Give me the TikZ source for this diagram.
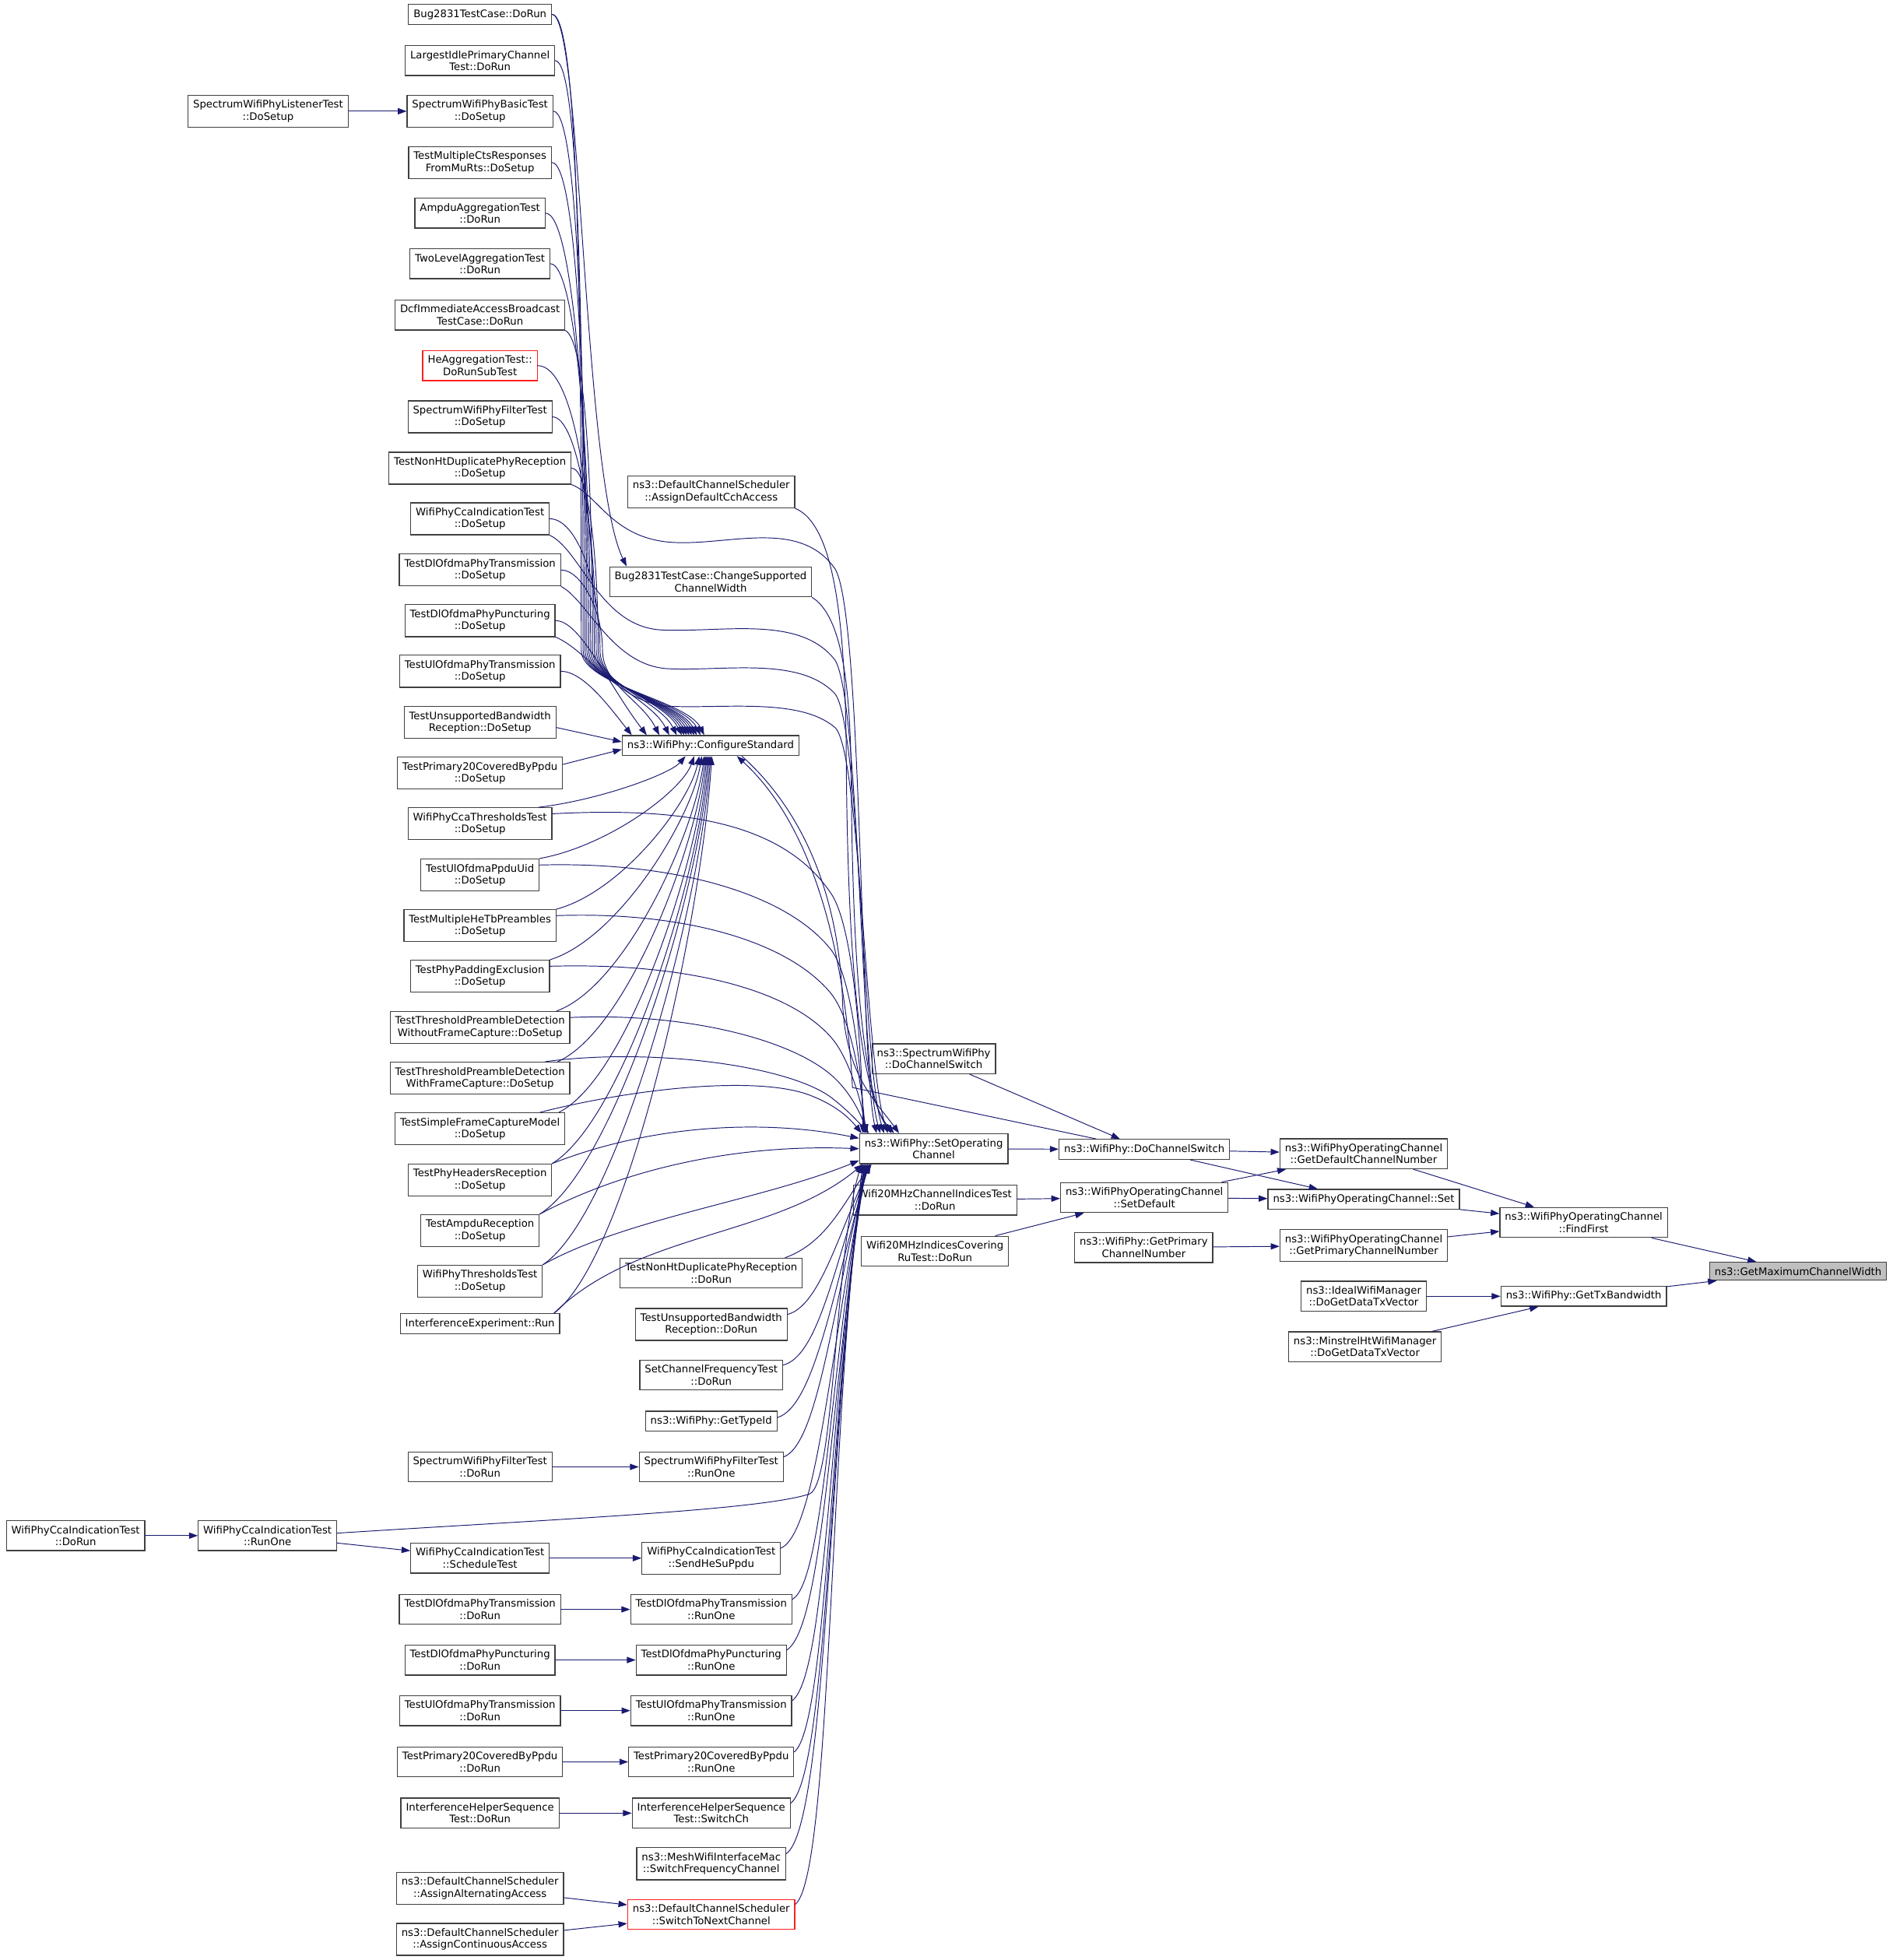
\documentclass[tikz,border=0pt]{standalone}
\usepackage{fontspec}
\setmainfont{DejaVu Sans}
\usepackage{tikz}
\usetikzlibrary{arrows.meta}
\definecolor{edgeblue}{HTML}{191970}
\definecolor{boxline}{HTML}{404040}
\definecolor{hlgray}{HTML}{BFBFBF}
\definecolor{hotred}{HTML}{FF2020}

\begin{document}
\begin{tikzpicture}[x=1pt, y=-1pt, style={line cap=round},
  fn/.style={draw=boxline, line width=0.8pt, fill=white, align=center,
    inner xsep=4pt, inner ysep=4pt, font=\fontsize{8.25}{9.6}\selectfont},
  hl/.style={fn, fill=hlgray},
  rd/.style={fn, draw=hotred},
  call/.style={draw=edgeblue, line width=0.6pt, -{Triangle[length=7pt,width=5pt]}}]
  \fill[white] (0,0) rectangle (1514,1568);
  \useasboundingbox (0,0) rectangle (1514,1568);

  % target and its direct callers
  \node[hl] (gmcw) at (1438.5,1017) {ns3::GetMaximumChannelWidth};
  \node[fn] (ffirst) at (1267,978) {ns3::WifiPhyOperatingChannel\\::FindFirst};
  \node[fn] (gtxbw) at (1267,1037) {ns3::WifiPhy::GetTxBandwidth};
  \node[fn] (gdefch) at (1091,923) {ns3::WifiPhyOperatingChannel\\::GetDefaultChannelNumber};
  \node[fn] (opset) at (1091,959.5) {ns3::WifiPhyOperatingChannel::Set};
  \node[fn] (gprimch) at (1091,996.5) {ns3::WifiPhyOperatingChannel\\::GetPrimaryChannelNumber};
  \node[fn] (ideal) at (1091,1037) {ns3::IdealWifiManager\\::DoGetDataTxVector};
  \node[fn] (minstrel) at (1092,1077.5) {ns3::MinstrelHtWifiManager\\::DoGetDataTxVector};
  \node[fn] (dochsw) at (915.5,919.5) {ns3::WifiPhy::DoChannelSwitch};
  \node[fn] (setdef) at (915.5,958) {ns3::WifiPhyOperatingChannel\\::SetDefault};
  \node[fn] (phyprim) at (915,998) {ns3::WifiPhy::GetPrimary\\ChannelNumber};
  \node[fn] (specdcs) at (747,847) {ns3::SpectrumWifiPhy\\::DoChannelSwitch};
  \node[fn] (setop) at (747,919) {ns3::WifiPhy::SetOperating\\Channel};
  \node[fn] (w20ci) at (748,960) {Wifi20MHzChannelIndicesTest\\::DoRun};
  \node[fn] (w20cov) at (748,1001) {Wifi20MHzIndicesCovering\\RuTest::DoRun};

  % middle column
  \node[fn] (assigncch) at (569,393.5) {ns3::DefaultChannelScheduler\\::AssignDefaultCchAccess};
  \node[fn] (chgwidth) at (568.5,465.5) {Bug2831TestCase::ChangeSupported\\ChannelWidth};
  \node[fn] (cfgstd) at (568.5,596.5) {ns3::WifiPhy::ConfigureStandard};
  \node[fn] (nonhtrun) at (569,1018.5) {TestNonHtDuplicatePhyReception\\::DoRun};
  \node[fn] (unsuprun) at (569,1059.5) {TestUnsupportedBandwidth\\Reception::DoRun};
  \node[fn] (setfreq) at (569,1100) {SetChannelFrequencyTest\\::DoRun};
  \node[fn] (typeid) at (569,1137) {ns3::WifiPhy::GetTypeId};
  \node[fn] (filterrunone) at (569,1173.5) {SpectrumWifiPhyFilterTest\\::RunOne};
  \node[fn] (sendhe) at (569,1246.5) {WifiPhyCcaIndicationTest\\::SendHeSuPpdu};
  \node[fn] (dlorunone) at (569,1287.5) {TestDlOfdmaPhyTransmission\\::RunOne};
  \node[fn] (dlprunone) at (569,1328) {TestDlOfdmaPhyPuncturing\\::RunOne};
  \node[fn] (ulorunone) at (569,1368.5) {TestUlOfdmaPhyTransmission\\::RunOne};
  \node[fn] (p20runone) at (569,1409.5) {TestPrimary20CoveredByPpdu\\::RunOne};
  \node[fn] (switchch) at (569,1450.5) {InterferenceHelperSequence\\Test::SwitchCh};
  \node[fn] (meshsw) at (569,1491) {ns3::MeshWifiInterfaceMac\\::SwitchFrequencyChannel};
  \node[rd] (switchnext) at (569,1531.5) {ns3::DefaultChannelScheduler\\::SwitchToNextChannel};

  % test callers
  \node[fn] (bugrun) at (384,11.5) {Bug2831TestCase::DoRun};
  \node[fn] (largest) at (384,48.5) {LargestIdlePrimaryChannel\\Test::DoRun};
  \node[fn] (basicsetup) at (384,89) {SpectrumWifiPhyBasicTest\\::DoSetup};
  \node[fn] (multicts) at (384,130) {TestMultipleCtsResponses\\FromMuRts::DoSetup};
  \node[fn] (ampdu) at (384,170.5) {AmpduAggregationTest\\::DoRun};
  \node[fn] (twolevel) at (384,211) {TwoLevelAggregationTest\\::DoRun};
  \node[fn] (dcf) at (384,252) {DcfImmediateAccessBroadcast\\TestCase::DoRun};
  \node[rd] (heagg) at (384,292.5) {HeAggregationTest::\\DoRunSubTest};
  \node[fn] (filtersetup) at (384,333.5) {SpectrumWifiPhyFilterTest\\::DoSetup};
  \node[fn] (nonhtsetup) at (384,374.5) {TestNonHtDuplicatePhyReception\\::DoSetup};
  \node[fn] (ccasetup) at (384,415) {WifiPhyCcaIndicationTest\\::DoSetup};
  \node[fn] (dlosetup) at (384,456) {TestDlOfdmaPhyTransmission\\::DoSetup};
  \node[fn] (dlpsetup) at (384,496.5) {TestDlOfdmaPhyPuncturing\\::DoSetup};
  \node[fn] (ulosetup) at (384,537) {TestUlOfdmaPhyTransmission\\::DoSetup};
  \node[fn] (unsupsetup) at (384,578) {TestUnsupportedBandwidth\\Reception::DoSetup};
  \node[fn] (p20setup) at (384,618.5) {TestPrimary20CoveredByPpdu\\::DoSetup};
  \node[fn] (ccathr) at (384,659) {WifiPhyCcaThresholdsTest\\::DoSetup};
  \node[fn] (ppduuid) at (384,700) {TestUlOfdmaPpduUid\\::DoSetup};
  \node[fn] (hetb) at (384,740.5) {TestMultipleHeTbPreambles\\::DoSetup};
  \node[fn] (padding) at (384,781) {TestPhyPaddingExclusion\\::DoSetup};
  \node[fn] (thrwo) at (384,822) {TestThresholdPreambleDetection\\WithoutFrameCapture::DoSetup};
  \node[fn] (thrwith) at (384,862.5) {TestThresholdPreambleDetection\\WithFrameCapture::DoSetup};
  \node[fn] (simplefc) at (384,903) {TestSimpleFrameCaptureModel\\::DoSetup};
  \node[fn] (hdrs) at (384,944) {TestPhyHeadersReception\\::DoSetup};
  \node[fn] (ampdurx) at (384,984.5) {TestAmpduReception\\::DoSetup};
  \node[fn] (thr) at (384,1025) {WifiPhyThresholdsTest\\::DoSetup};
  \node[fn] (interf) at (384,1059) {InterferenceExperiment::Run};
  \node[fn] (filterrun) at (384,1173.5) {SpectrumWifiPhyFilterTest\\::DoRun};
  \node[fn] (schedtest) at (384,1246.5) {WifiPhyCcaIndicationTest\\::ScheduleTest};
  \node[fn] (dlorun) at (384,1287.5) {TestDlOfdmaPhyTransmission\\::DoRun};
  \node[fn] (dlprun) at (384,1328) {TestDlOfdmaPhyPuncturing\\::DoRun};
  \node[fn] (ulorun) at (384,1368.5) {TestUlOfdmaPhyTransmission\\::DoRun};
  \node[fn] (p20run) at (384,1409.5) {TestPrimary20CoveredByPpdu\\::DoRun};
  \node[fn] (ihsrun) at (384,1450.5) {InterferenceHelperSequence\\Test::DoRun};
  \node[fn] (altacc) at (384,1510.5) {ns3::DefaultChannelScheduler\\::AssignAlternatingAccess};
  \node[fn] (contacc) at (384,1551.5) {ns3::DefaultChannelScheduler\\::AssignContinuousAccess};
  \node[fn] (listener) at (214.5,89) {SpectrumWifiPhyListenerTest\\::DoSetup};
  \node[fn] (ccarunone) at (214,1228.5) {WifiPhyCcaIndicationTest\\::RunOne};
  \node[fn] (ccadorun) at (60.5,1228.5) {WifiPhyCcaIndicationTest\\::DoRun};

  % straight calls
  \draw[call] (ffirst) -- (gmcw);
  \draw[call] (gtxbw) -- (gmcw);
  \draw[call] (gdefch) -- (ffirst);
  \draw[call] (opset) -- (ffirst);
  \draw[call] (gprimch) -- (ffirst);
  \draw[call] (ideal) -- (gtxbw);
  \draw[call] (minstrel) -- (gtxbw);
  \draw[call] (dochsw) -- (gdefch);
  \draw[call] (dochsw) -- (opset);
  \draw[call] (setdef) -- (gdefch);
  \draw[call] (setdef) -- (opset);
  \draw[call] (phyprim) -- (gprimch);
  \draw[call] (specdcs) -- (dochsw);
  \draw[call] (setop) -- (dochsw);
  \draw[call] (w20ci) -- (setdef);
  \draw[call] (w20cov) -- (setdef);
  \draw[call] (listener) -- (basicsetup);
  \draw[call] (ccadorun) -- (ccarunone);
  \draw[call] (ccarunone) -- (schedtest);
  \draw[call] (schedtest) -- (sendhe);
  \draw[call] (filterrun) -- (filterrunone);
  \draw[call] (dlorun) -- (dlorunone);
  \draw[call] (dlprun) -- (dlprunone);
  \draw[call] (ulorun) -- (ulorunone);
  \draw[call] (p20run) -- (p20runone);
  \draw[call] (ihsrun) -- (switchch);
  \draw[call] (altacc) -- (switchnext);
  \draw[call] (contacc) -- (switchnext);

  % upper tests down the bundle into ConfigureStandard
  \draw[call] (bugrun.east) .. controls +(22,0) and (465,265) .. (465,520) .. controls (465,548) and +(-14,-28) .. ([xshift=66pt]cfgstd.north west);
  \draw[call] (bugrun.east) .. controls +(24,0) and (466,380) .. ([xshift=14pt]chgwidth.north west);
  \draw[call] (largest.east) .. controls +(20,0) and (466.5,284) .. (466.5,520) .. controls (466.5,548) and +(-14,-28) .. ([xshift=63pt]cfgstd.north west);
  \draw[call] (basicsetup.east) .. controls +(20,0) and (468,305) .. (468,520) .. controls (468,548) and +(-14,-28) .. ([xshift=60pt]cfgstd.north west);
  \draw[call] (multicts.east) .. controls +(20,0) and (469.5,325) .. (469.5,520) .. controls (469.5,548) and +(-14,-28) .. ([xshift=58pt]cfgstd.north west);
  \draw[call] (ampdu.east) .. controls +(22,0) and (471,345) .. (471,520) .. controls (471,548) and +(-14,-28) .. ([xshift=56pt]cfgstd.north west);
  \draw[call] (twolevel.east) .. controls +(20,0) and (472.5,365) .. (472.5,520) .. controls (472.5,548) and +(-14,-28) .. ([xshift=54pt]cfgstd.north west);
  \draw[call] (dcf.south east) .. controls +(16,8) and (474,386) .. (474,520) .. controls (474,548) and +(-14,-28) .. ([xshift=52pt]cfgstd.north west);
  \draw[call] (heagg.east) .. controls +(30,0) and (475.5,406) .. (475.5,520) .. controls (475.5,548) and +(-14,-28) .. ([xshift=50pt]cfgstd.north west);
  \draw[call] (filtersetup.east) .. controls +(20,0) and (477,426) .. (477,520) .. controls (477,548) and +(-14,-28) .. ([xshift=48pt]cfgstd.north west);
  \draw[call] (nonhtsetup.east) .. controls +(14,0) and (478.5,447) .. (478.5,520) .. controls (478.5,548) and +(-14,-28) .. ([xshift=44pt]cfgstd.north west);
  \draw[call] (ccasetup.east) .. controls +(22,0) and (480,467) .. (480,520) .. controls (480,548) and +(-14,-28) .. ([xshift=38pt]cfgstd.north west);
  \draw[call] (dlosetup.east) .. controls +(16,0) and (482,488) .. (482,520) .. controls (482,548) and +(-14,-28) .. ([xshift=30pt]cfgstd.north west);
  \draw[call] (dlpsetup.east) .. controls +(20,0) and (486,547) .. ([xshift=20pt]cfgstd.north west);
  \draw[call] (ulosetup.east) .. controls +(18,0) and (488,566) .. ([xshift=8pt]cfgstd.north west);
  \draw[call] ([yshift=-4pt]unsupsetup.east) -- ([yshift=3pt]cfgstd.west);
  \draw[call] ([yshift=7pt]p20setup.east) -- ([yshift=-3pt]cfgstd.west);

  % lower tests up into ConfigureStandard
  \draw[call] ([xshift=-11pt]ccathr.north east) .. controls +(50,-6) and +(-12,14) .. ([xshift=51pt]cfgstd.south west);
  \draw[call] (ppduuid.north east) .. controls +(55,-10) and +(-10,28) .. ([xshift=58pt]cfgstd.south west);
  \draw[call] (hetb.north east) .. controls +(52,-14) and +(-8,38) .. ([xshift=62pt]cfgstd.south west);
  \draw[call] (padding.north east) .. controls +(55,-17) and +(-8,50) .. ([xshift=64pt]cfgstd.south west);
  \draw[call] ([xshift=-11pt]thrwo.north east) .. controls +(55,-20) and +(-8,62) .. ([xshift=66pt]cfgstd.south west);
  \draw[call] ([xshift=-10pt]thrwith.north east) .. controls +(55,-25) and +(-8,75) .. ([xshift=67pt]cfgstd.south west);
  \draw[call] ([xshift=-5pt]simplefc.north east) .. controls +(55,-28) and +(-8,88) .. ([xshift=68pt]cfgstd.south west);
  \draw[call] (hdrs.north east) .. controls +(57,-35) and +(-8,100) .. ([xshift=69pt]cfgstd.south west);
  \draw[call] (ampdurx.north east) .. controls +(60,-37) and +(-8,110) .. ([xshift=70pt]cfgstd.south west);
  \draw[call] (thr.north east) .. controls +(60,-40) and +(-8,120) .. ([xshift=71pt]cfgstd.south west);
  \draw[call] ([xshift=-5pt]interf.north east) .. controls +(60,-45) and +(-8,130) .. ([xshift=72pt]cfgstd.south west);

  % lower tests across to SetOperatingChannel
  \draw[call] ([yshift=8pt]ccathr.east) .. controls (540,646) and (625,655) .. (665,715) .. controls (685,745) and (690,860) .. ([xshift=3pt]setop.north west);
  \draw[call] ([yshift=8pt]ppduuid.east) .. controls (540,689) and (630,715) .. (665,760) .. controls (683,783) and (690,870) .. ([xshift=4pt]setop.north west);
  \draw[call] ([yshift=8pt]hetb.east) .. controls (545,729) and (630,752) .. (665,795) .. controls (683,818) and (690,875) .. ([xshift=5pt]setop.north west);
  \draw[call] ([yshift=8pt]padding.east) .. controls (545,770) and (630,790) .. (665,830) .. controls (680,847) and (690,885) .. ([xshift=6pt]setop.north west);
  \draw[call] ([yshift=8pt]thrwo.east) .. controls (545,810) and (630,830) .. (665,860) .. controls (680,873) and (688,890) .. ([xshift=7pt]setop.north west);
  \draw[call] ([xshift=-20pt]thrwith.north east) .. controls (520,838) and (630,852) .. (665,878) .. controls (678,888) and (686,897) .. ([xshift=8pt]setop.north west);
  \draw[call] ([xshift=-20pt]simplefc.north east) .. controls (510,870) and (610,860) .. (650,877) .. controls (670,885) and (680,895) .. ([xshift=2pt]setop.north west);
  \draw[call] (hdrs.north east) .. controls (520,900) and (610,895) .. ([yshift=-4pt]setop.north west);
  \draw[call] (ampdurx.north east) .. controls (500,935) and (590,915) .. (setop.west);
  \draw[call] (thr.north east) .. controls (500,975) and (610,960) .. ([yshift=3pt]setop.south west);
  \draw[call] ([xshift=-5pt]interf.north east) .. controls (510,985) and (620,990) .. ([xshift=3pt]setop.south west);

  % wavy runs from the upper tests
  \draw[call] (nonhtsetup.south east) .. controls (478,395) and (490,432) .. (540,434) .. controls (585,436) and (640,415) .. (668,455) .. controls (690,490) and (688,850) .. ([xshift=14pt]setop.north west);
  \draw[call] (ccasetup.south east) .. controls (465,440) and (480,502) .. (530,504) .. controls (580,506) and (640,492) .. (668,528) .. controls (688,560) and (688,850) .. ([xshift=17pt]setop.north west);
  \draw[call] (dlosetup.south east) .. controls (470,480) and (490,533) .. (535,535) .. controls (580,537) and (640,525) .. (668,555) .. controls (688,580) and (690,850) .. ([xshift=20pt]setop.north west);
  \draw[call] (dlpsetup.south east) .. controls (470,520) and (495,563) .. (535,565) .. controls (580,567) and (640,558) .. (668,582) .. controls (688,600) and (692,850) .. ([xshift=23pt]setop.north west);
  \draw[call] (assigncch.south east) .. controls (668,420) and (676,500) .. (677,600) .. controls (678,800) and (692,880) .. ([xshift=28pt]setop.north west);
  \draw[call] (chgwidth.south east) .. controls (672,492) and (680,540) .. (681,620) .. controls (682,800) and (694,880) .. ([xshift=26pt]setop.north west);

  % ConfigureStandard and the channel switch
  \draw[call] ([xshift=25pt]cfgstd.south) .. controls (655,660) and (672,740) .. (674,800) .. controls (676,860) and (700,880) .. ([xshift=32pt]setop.north west);
  \draw[call] ([xshift=30pt]dochsw.north west) -- (682,870) .. controls (676,760) and (650,660) .. ([xshift=21pt]cfgstd.south);

  % callers below SetOperatingChannel
  \draw[call] ([xshift=-14pt]nonhtrun.north east) .. controls (662,994) and (676,960) .. ([xshift=10pt]setop.south west);
  \draw[call] ([yshift=8pt]unsuprun.east) .. controls (655,1045) and (670,990) .. ([xshift=9pt]setop.south west);
  \draw[call] ([yshift=8pt]setfreq.east) .. controls (655,1085) and (668,1010) .. ([xshift=8pt]setop.south west);
  \draw[call] ([yshift=3pt]typeid.east) .. controls (652,1125) and (667,1030) .. ([xshift=8pt]setop.south west);
  \draw[call] ([yshift=8pt]filterrunone.east) .. controls (655,1155) and (667,1040) .. ([xshift=7pt]setop.south west);
  \draw[call] ([yshift=8pt]sendhe.east) .. controls (655,1225) and (666,1060) .. ([xshift=7pt]setop.south west);
  \draw[call] ([yshift=8pt]dlorunone.east) .. controls (660,1265) and (665,1080) .. ([xshift=6pt]setop.south west);
  \draw[call] ([yshift=8pt]dlprunone.east) .. controls (660,1300) and (665,1100) .. ([xshift=6pt]setop.south west);
  \draw[call] ([yshift=8pt]ulorunone.east) .. controls (662,1340) and (664,1110) .. ([xshift=5pt]setop.south west);
  \draw[call] ([yshift=8pt]p20runone.east) .. controls (662,1380) and (664,1120) .. ([xshift=5pt]setop.south west);
  \draw[call] ([yshift=8pt]switchch.east) .. controls (662,1420) and (664,1130) .. ([xshift=4pt]setop.south west);
  \draw[call] ([yshift=8pt]meshsw.east) .. controls (662,1460) and (663,1140) .. ([xshift=4pt]setop.south west);
  \draw[call] ([yshift=8pt]switchnext.east) .. controls (665,1500) and (663,1150) .. ([xshift=3pt]setop.south west);
  \draw[call] ([yshift=2pt]ccarunone.east) .. controls (450,1215) and (610,1208) .. (648,1195) .. controls (668,1185) and (668,1000) .. ([xshift=2pt]setop.south west);
\end{tikzpicture}
\end{document}
